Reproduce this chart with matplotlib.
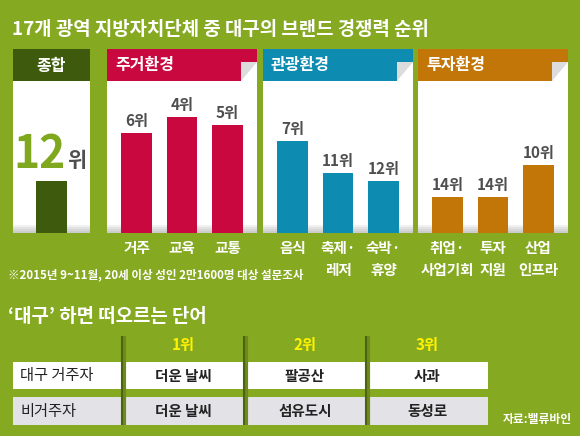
import matplotlib
matplotlib.use('Agg')
import matplotlib.pyplot as plt
from matplotlib.patches import Rectangle, Polygon

plt.rcParams['font.family'] = ['Noto Sans CJK KR', 'DejaVu Sans']

# ---- data ----
title = '17개 광역 지방자치단체 중 대구의 브랜드 경쟁력 순위'
footnote = '※2015년 9~11월, 20세 이상 성인 2만1600명 대상 설문조사'
words_title = '‘대구’ 하면 떠오르는 단어'
source = '자료:밸류바인'

overall_rank = 12
housing_labels = ['거주', '교육', '교통']
housing_ranks = [6, 4, 5]
tourism_labels = ['음식', '축제·\n레저', '숙박·\n휴양']
tourism_ranks = [7, 11, 12]
invest_labels = ['취업·\n사업기회', '투자\n지원', '산업\n인프라']
invest_ranks = [14, 14, 10]

rank_cols = ['1위', '2위', '3위']
groups = ['대구 거주자', '비거주자']
resident_words = ['더운 날씨', '팔공산', '사과']
visitor_words = ['더운 날씨', '섬유도시', '동성로']

# ---- layout (pixels) ----
W, H = 580, 436
BG = '#86A922'
GRAY_TXT = '#4F4F4F'
panels = [
    ('종합', '#3E5A0C', 13, 90, [''], [overall_rank]),
    ('주거환경', '#C8083E', 107, 257, housing_labels, housing_ranks),
    ('관광환경', '#0D8BB0', 263, 413, tourism_labels, tourism_ranks),
    ('투자환경', '#C27608', 418, 568, invest_labels, invest_ranks),
]
HEAD_TOP, HEAD_BOT, BODY_BOT = 49, 81, 233


def frac(x0, y0, x1, y1):
    return [x0 / W, 1 - y1 / H, (x1 - x0) / W, (y1 - y0) / H]


fig = plt.figure(figsize=(W / 100, H / 100), dpi=100, facecolor=BG)
ax0 = fig.add_axes([0, 0, 1, 1])
ax0.set_xlim(0, W)
ax0.set_ylim(H, 0)
ax0.axis('off')

ax0.text(12, 35, title, color='white', fontsize=13.6, fontweight='bold', va='baseline')

for name, color, x0, x1, labels, ranks in panels:
    ax0.add_patch(Rectangle((x0, HEAD_BOT), x1 - x0, BODY_BOT - HEAD_BOT, color='white', lw=0))
    # soft shadow at the bottom of each card
    for k, g in enumerate(['#F0F0F0', '#E2E2E2', '#D6D6D6', '#CCCCCC']):
        ax0.add_patch(Rectangle((x0, BODY_BOT - 8 + 2 * k), x1 - x0, 2, color=g, lw=0))
    ax0.add_patch(Rectangle((x0, HEAD_TOP), x1 - x0, HEAD_BOT - HEAD_TOP, color=color, lw=0))
    if name == '종합':
        ax0.text((x0 + x1) / 2, 65.5, name, color='white', fontsize=11.5,
                 fontweight='bold', ha='center', va='center')
    else:
        ax0.text(x0 + 8, 65, name, color='white', fontsize=11.5,
                 fontweight='bold', ha='left', va='center')
        # folded corner
        ax0.add_patch(Rectangle((x1 - 16, 62), 16, HEAD_BOT - 62, color='white', lw=0))
        ax0.add_patch(Polygon([(x1 - 16, 62), (x1, 62), (x1 - 16, HEAD_BOT)],
                              closed=True, color='#DCDCDC', lw=0))

    # bars: longer bar = better rank (rank 1 is best among 17)
    ax = fig.add_axes(frac(x0, HEAD_BOT, x1, BODY_BOT))
    ax.patch.set_alpha(0)
    for s in ax.spines.values():
        s.set_visible(False)
    bar_len = [18.5 - r for r in ranks]
    if name == '종합':
        ax.bar([0], bar_len, width=1.0, color=color)
        ax.set_xlim(-1.25, 1.25)
        ax.set_xticks([])
        ax.annotate(str(ranks[0]), xy=(0, bar_len[0]), xytext=(14, 13),
                    textcoords='offset pixels', ha='right', va='baseline',
                    fontsize=32, fontweight='bold', color='#7FA81E')
        ax.annotate('위', xy=(0, bar_len[0]), xytext=(16, 14),
                    textcoords='offset pixels', ha='left', va='baseline',
                    fontsize=15, fontweight='bold', color=GRAY_TXT)
    else:
        bars = ax.bar(range(len(ranks)), bar_len, width=0.67, color=color)
        ax.bar_label(bars, labels=[f'{r}위' for r in ranks], padding=3,
                     fontsize=11, fontweight='bold', color=GRAY_TXT)
        ax.set_xlim(-0.65, 2.65)
        ax.set_xticks(range(len(labels)))
        ax.set_xticklabels(labels, color='white', fontsize=10.5,
                           fontweight='bold', linespacing=1.45)
        ax.tick_params(axis='x', length=0, pad=5)
    ax.set_ylim(0, 19)
    ax.set_yticks([])

ax0.text(8, 278, footnote, color='white', fontsize=8.3, fontweight='bold', va='baseline')
ax0.text(8, 322, words_title, color='white', fontsize=13.6, fontweight='bold', va='baseline')

# ---- word table ----
row_y = [(362, 389), (397, 425)]
row_bg = ['white', '#E3E3E7']
sep_x = [122, 244, 366]
col_cx = [183, 305, 427]
for (y0, y1), bg, grp, words in zip(row_y, row_bg, groups, [resident_words, visitor_words]):
    ax0.add_patch(Rectangle((13, y0), 488 - 13, y1 - y0, color=bg, lw=0))
    ax0.text(20, (y0 + y1) / 2, grp, fontsize=11, color='#222222', va='center')
    for cx, w in zip(col_cx, words):
        ax0.text(cx, (y0 + y1) / 2, w, fontsize=10.5, fontweight='bold',
                 color='#222222', ha='center', va='center')
for sx in sep_x:
    ax0.plot([sx + 1.5, sx + 1.5], [336, 425], color='#6E8A1C', lw=3, solid_capstyle='butt')
    ax0.plot([sx, sx], [336, 425], color='#4A6410', lw=1.5, solid_capstyle='butt')
for cx, rc in zip(col_cx, rank_cols):
    ax0.text(cx, 345, rc, fontsize=11, fontweight='bold', color='#FFF200',
             ha='center', va='center')

ax0.text(572, 419, source, color='white', fontsize=8.5, fontweight='bold',
         ha='right', va='center')

fig.savefig('out.png', dpi=100, facecolor=BG)
